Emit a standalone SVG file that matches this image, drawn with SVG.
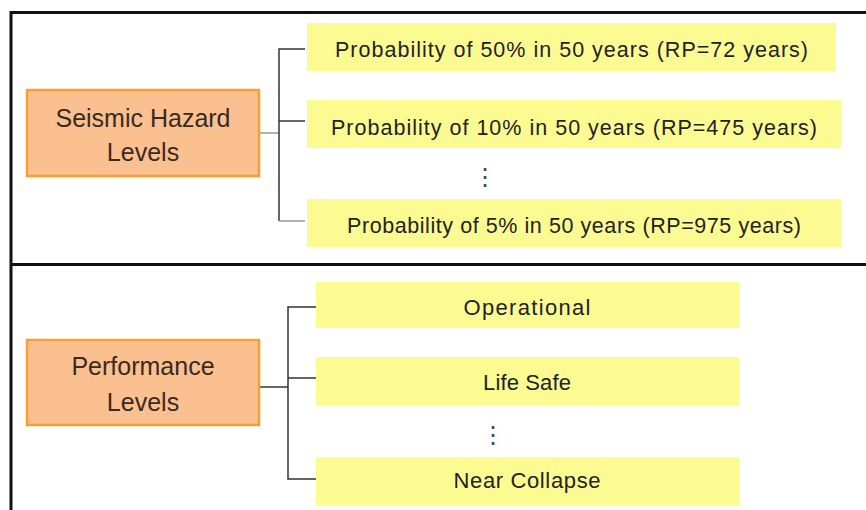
<svg xmlns="http://www.w3.org/2000/svg" width="866" height="510" viewBox="0 0 866 510">
  <style>
    .frame { stroke: #111; stroke-width: 3; fill: none; }
    .cat rect { fill: #FAC090; stroke: #F5A030; stroke-width: 2.5; }
    .cat text { font-family: "Liberation Sans", Arial, sans-serif; font-size: 25px; fill: #3a2a1e; text-anchor: middle; }
    .item rect { fill: #FBFB92; }
    .item text { font-family: "Liberation Sans", Arial, sans-serif; font-size: 21.5px; fill: #222; text-anchor: middle; }
    .item.wide text { font-size: 22px; }
    .dots { font-family: "DejaVu Sans", sans-serif; font-size: 24px; fill: #444; text-anchor: middle; }
    .link { stroke: #333; stroke-width: 1.5; fill: none; }
    .link.soft { stroke: #999; }
  </style>

  <rect width="866" height="510" fill="#fff"/>

  <!-- outer frame and section divider -->
  <g id="frame">
    <path class="frame" d="M866 12.5 H11 V510"/>
    <path class="frame" d="M11 264.5 H866"/>
  </g>

  <!-- branch connectors -->
  <g id="connectors">
    <path class="link soft" d="M259 133 H279"/>
    <path class="link" d="M305 49 H279 V221"/>
    <path class="link" d="M279 121 H305"/>
    <path class="link soft" d="M279 221 H305"/>

    <path class="link" d="M259 387 H288"/>
    <path class="link" d="M316 307 H288 V479 H316"/>
    <path class="link" d="M288 378 H316"/>
  </g>

  <!-- seismic hazard section -->
  <g id="seismic-hazard" class="cat">
    <rect x="27" y="90" width="232" height="86"/>
    <text x="143" y="127">Seismic Hazard</text>
    <text x="143" y="161">Levels</text>
  </g>
  <g id="hazard-50" class="item">
    <rect x="307" y="23" width="529" height="48"/>
    <text x="571.5" y="57" textLength="473" lengthAdjust="spacing">Probability of 50% in 50 years (RP=72 years)</text>
  </g>
  <g id="hazard-10" class="item">
    <rect x="307" y="100" width="534" height="48"/>
    <text x="574" y="135" textLength="486" lengthAdjust="spacing">Probability of 10% in 50 years (RP=475 years)</text>
  </g>
  <text class="dots" x="485" y="185">⋮</text>
  <g id="hazard-5" class="item">
    <rect x="307" y="199" width="534" height="48"/>
    <text x="574" y="233" textLength="454" lengthAdjust="spacing">Probability of 5% in 50 years (RP=975 years)</text>
  </g>

  <!-- performance section -->
  <g id="performance" class="cat">
    <rect x="27" y="340" width="232" height="85"/>
    <text x="143" y="375">Performance</text>
    <text x="143" y="411">Levels</text>
  </g>
  <g id="operational" class="item wide">
    <rect x="316" y="282" width="423" height="46"/>
    <text x="527" y="315" textLength="127" lengthAdjust="spacing">Operational</text>
  </g>
  <g id="life-safe" class="item wide">
    <rect x="316" y="357" width="423" height="48"/>
    <text x="527" y="390" textLength="88" lengthAdjust="spacing">Life Safe</text>
  </g>
  <text class="dots" x="493" y="443">⋮</text>
  <g id="near-collapse" class="item wide">
    <rect x="316" y="457" width="423" height="48"/>
    <text x="527" y="488" textLength="147" lengthAdjust="spacing">Near Collapse</text>
  </g>
</svg>
